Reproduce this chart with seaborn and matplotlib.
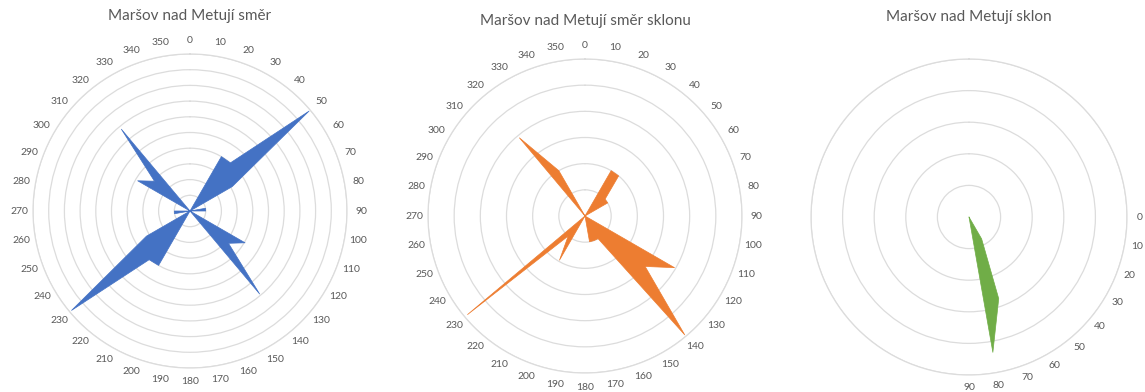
import numpy as np
import pandas as pd
import matplotlib
matplotlib.use("Agg")
import matplotlib.pyplot as plt
import seaborn as sns

# Direction classes (degrees, clockwise from north)
directions = list(range(0, 360, 10))

# Counts per direction class – "směr"
smer = [0, 0, 0, 4.0, 4.0, 9.9, 3.1, 0, 1.0, 1.0, 0, 0,
        4.05, 3.2, 6.9, 0, 0, 0, 0, 0, 0, 4.0, 4.05, 9.85,
        3.2, 0, 1.0, 1.0, 0, 0, 3.85, 2.95, 6.8, 0, 0, 0]

# Counts per direction class – "směr sklonu"
smer_sklonu = [0, 0, 0, 2.0, 2.0, 1.0, 1.0, 0, 0, 0, 0, 0,
               3.95, 3.0, 5.93, 1.0, 1.0, 1.0, 0, 0, 0, 1.95, 1.0, 5.86,
               0, 0, 0, 0, 0, 0, 0, 0, 3.9, 2.0, 0, 0]

# Slope classes (degrees) and counts – "sklon"
slope_classes = [0, 10, 20, 30, 40, 50, 60, 70, 80, 90]
sklon = [0, 0, 0, 0, 0, 0, 0.8, 2.75, 4.35, 0]

titles = ["Maršov nad Metují směr",
          "Maršov nad Metují směr sklonu",
          "Maršov nad Metují sklon"]
colors = ["#4472C4", "#ED7D31", "#70AD47"]

sns.set_theme(style="white")
plt.rcParams["font.family"] = ["Lato", "DejaVu Sans"]

TEXT = "#595959"
GRID = "#DCDCDC"

W, H = 1145, 392
fig = plt.figure(figsize=(W / 100, H / 100), dpi=100)
fig.patch.set_facecolor("white")


def radar(center, radius, compass_deg, values, labels, rmax, color, title, title_y):
    cx, cy = center
    ax = fig.add_axes([(cx - radius) / W, (H - cy - radius) / H,
                       2 * radius / W, 2 * radius / H], projection="polar")
    ax.set_theta_zero_location("N")
    ax.set_theta_direction(-1)
    theta = np.deg2rad(np.asarray(compass_deg, dtype=float))
    r = np.asarray(values, dtype=float)
    df = pd.DataFrame({"theta": np.append(theta, theta[0]),
                       "r": np.append(r, r[0])})
    ax.fill(df["theta"], df["r"], color=color, lw=0, zorder=3)
    sns.lineplot(data=df, x="theta", y="r", sort=False, ax=ax,
                 color=color, lw=0.5, zorder=3)
    ax.set_ylim(0, rmax)
    ax.set_yticks(np.arange(1, rmax + 1))
    ax.set_yticklabels([])
    ax.yaxis.grid(True, color=GRID, lw=0.9)
    ax.xaxis.grid(False)
    ax.spines["polar"].set_color(GRID)
    ax.spines["polar"].set_linewidth(0.9)
    ax.set_xticks([])
    ax.set_xlabel("")
    ax.set_ylabel("")
    ax.set_facecolor("white")
    # category labels just outside the outer ring
    label_r = rmax * 171.0 / radius
    for t, lab in zip(theta, labels):
        ax.text(t, label_r, lab, ha="center", va="center", color=TEXT,
                fontsize=7.5, clip_on=False)
    fig.text(cx / W, 1 - title_y / H, title, ha="center", va="center",
             color=TEXT, fontsize=11)
    return ax


dir_labels = [str(d) for d in directions]
radar((190, 211), 157, directions, smer, dir_labels, 10, colors[0], titles[0], 16)
radar((585, 216), 157, directions, smer_sklonu, dir_labels, 6, colors[1], titles[1], 21.5)

# slope classes run clockwise from east to south
slope_angles = [90 + c for c in slope_classes]
radar((969, 217), 158, slope_angles, sklon, [str(c) for c in slope_classes],
      5, colors[2], titles[2], 17)

fig.savefig("out.png", dpi=100, facecolor="white")
